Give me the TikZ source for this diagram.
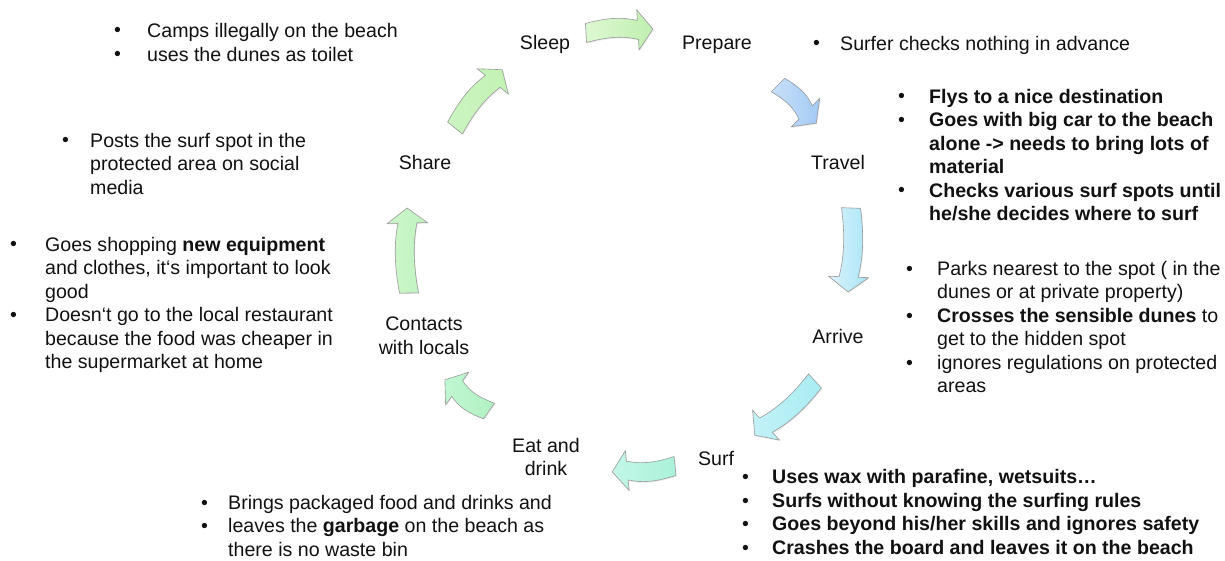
\documentclass[tikz,border=0pt]{standalone}
\usepackage{fontspec}
\setmainfont{Liberation Sans}
\usetikzlibrary{shadows}
\definecolor{txtc}{HTML}{111111}
\definecolor{arrline}{HTML}{9A9A9A}
\definecolor{a1s}{HTML}{DDF8D2}\definecolor{a1e}{HTML}{BFEFAF}
\definecolor{a2s}{HTML}{C8E0FA}\definecolor{a2e}{HTML}{A2CAF4}
\definecolor{a3s}{HTML}{DCF2FC}\definecolor{a3e}{HTML}{A8E6F6}
\definecolor{a4s}{HTML}{C2F2F8}\definecolor{a4e}{HTML}{A8ECF2}
\definecolor{a5s}{HTML}{C2F6E8}\definecolor{a5e}{HTML}{AAF2D8}
\definecolor{a6s}{HTML}{C0F6D2}\definecolor{a6e}{HTML}{B0F2C0}
\definecolor{a7s}{HTML}{CDF6CB}\definecolor{a7e}{HTML}{BFF3BF}
\definecolor{a8s}{HTML}{CCF5C2}\definecolor{a8e}{HTML}{C2F2B2}
\newcommand\cycarrow[5]{%
 \begin{scope}[shift={(#1)}, rotate=#2, y=1pt]
  \pgfmathsetmacro\La{#3-15}
  \pgfmathsetmacro\Lb{#3*0.33}
  \pgfmathsetmacro\Lc{(#3-15)*0.7}
  \path[blockarrow, left color=#4, right color=#5]
    (0,-9.5) .. controls (\Lb,-5) and (\Lc,-5) .. (\La,-9.5)
    -- (\La,-20) -- (#3,0) -- (\La,20) -- (\La,9.5)
    .. controls (\Lc,14) and (\Lb,14) .. (0,9.5) -- cycle;
 \end{scope}}
\begin{document}
\begin{tikzpicture}[x=1pt,y=-1pt,
  lbl/.style={font=\fontsize{19.6}{23.5}\selectfont, inner sep=0pt, text=txtc},
  lblb/.style={font=\fontsize{19.6}{23.5}\selectfont\bfseries, inner sep=0pt, text=txtc},
  txt/.style={lbl, anchor=north west, align=left},
  bul/.style={lbl, anchor=base west},
  txtb/.style={lblb, anchor=north west, align=left},
  cyc/.style={lbl, anchor=base},
  cyc2/.style={lbl, anchor=north, align=center},
  blockarrow/.style={draw=arrline, line width=0.6pt,
     drop shadow={shadow xshift=0.8pt, shadow yshift=-1pt, opacity=0.18}}]
\useasboundingbox[fill=white] (0,0) rectangle (1225,561);

% cycle labels
\node[cyc] (sleep) at (545,50) {Sleep};
\node[cyc] (prepare) at (717,50) {Prepare};
\node[cyc] (travel) at (838,170) {Travel};
\node[cyc] (arrive) at (838,343) {Arrive};
\node[cyc] (surf) at (716,465) {Surf};
\node[cyc2] (eat) at (546,438) {Eat and\\drink};
\node[cyc2] (contacts) at (424,317) {Contacts\\with locals};
\node[cyc] (share) at (425,170) {Share};

% block arrows
\cycarrow{586,33}{3.4}{67}{a1s}{a1e}
\cycarrow{778,85}{-45}{54}{a2s}{a2e}
\cycarrow{851,208}{-92}{84}{a3s}{a3e}
\cycarrow{815,381}{222}{81}{a4s}{a4e}
\cycarrow{675,466}{185.4}{63}{a5s}{a5e}
\cycarrow{489,411}{144.8}{54}{a6s}{a6e}
\cycarrow{409,293}{91.3}{85}{a7s}{a7e}
\cycarrow{455,128}{51}{75}{a8s}{a8e}

% Sleep notes
\node[bul] (b1a) at (114,37) {•};
\node[txt] (t1a) at (147,23) {Camps illegally on the beach};
\node[bul] (b1b) at (114,61) {•};
\node[txt] (t1b) at (147,47) {uses the dunes as toilet};

% Prepare notes
\node[bul] (b2a) at (813,50) {•};
\node[txt] (t2a) at (840,36) {Surfer checks nothing in advance};

% Travel notes
\node[bul] (b3a) at (898,103) {•};
\node[txtb] (t3a) at (929,89) {Flys to a nice destination};
\node[bul] (b3b) at (898,126.5) {•};
\node[txtb] (t3b) at (929,112.5) {Goes with big car to the beach\\alone -> needs to bring lots of\\material};
\node[bul] (b3c) at (898,197) {•};
\node[txtb] (t3c) at (929,183) {Checks various surf spots until\\he/she decides where to surf};

% Arrive notes
\node[bul] (b4a) at (906,275) {•};
\node[txt] (t4a) at (937,261) {Parks nearest to the spot ( in the\\dunes or at private property)};
\node[bul] (b4b) at (906,322) {•};
\node[txt] (t4b) at (937,308) {\textbf{Crosses the sensible dunes} to\\get to the hidden spot};
\node[bul] (b4c) at (906,369) {•};
\node[txt] (t4c) at (937,355) {ignores regulations on protected\\areas};

% Surf notes
\node[bul] (b5a) at (742,483) {•};
\node[txtb] (t5a) at (772,469) {Uses wax with parafine, wetsuits…};
\node[bul] (b5b) at (742,507) {•};
\node[txtb] (t5b) at (772,493) {Surfs without knowing the surfing rules};
\node[bul] (b5c) at (742,530.5) {•};
\node[txtb] (t5c) at (772,516.5) {Goes beyond his/her skills and ignores safety};
\node[bul] (b5d) at (742,554) {•};
\node[txtb] (t5d) at (772,540) {Crashes the board and leaves it on the beach};

% Eat notes
\node[bul] (b6a) at (201,509) {•};
\node[txt] (t6a) at (228,495) {Brings packaged food and drinks and};
\node[bul] (b6b) at (201,532.5) {•};
\node[txt] (t6b) at (228,518.5) {leaves the \textbf{garbage} on the beach as\\there is no waste bin};

% Contacts notes
\node[bul] (b7a) at (10,251) {•};
\node[txt] (t7a) at (45,237) {Goes shopping \textbf{new equipment}\\and clothes, it‘s important to look\\good};
\node[bul] (b7b) at (10,321.5) {•};
\node[txt] (t7b) at (45,307.5) {Doesn‘t go to the local restaurant\\because the food was cheaper in\\the supermarket at home};

% Share notes
\node[bul] (b8a) at (62,147) {•};
\node[txt] (t8a) at (90,133) {Posts the surf spot in the\\protected area on social\\media};
\end{tikzpicture}
\end{document}
